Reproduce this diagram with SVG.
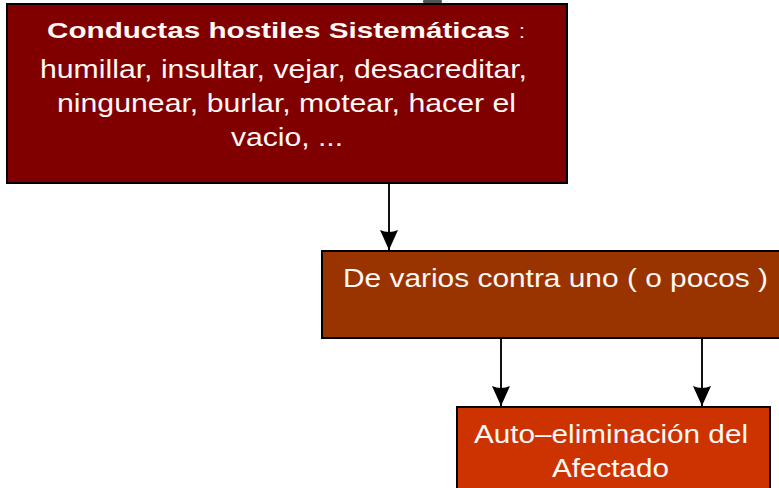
<svg xmlns="http://www.w3.org/2000/svg" width="779" height="488" viewBox="0 0 779 488">
<style>
.box{stroke:#000;stroke-width:2}
.t{font-family:"Liberation Sans",Arial,sans-serif;fill:#fff8f4}
.b{font-weight:bold;font-size:22px}
.n{font-size:25px}
.conn line{stroke:#111;stroke-width:2}
</style>
<defs>
<marker id="ah" markerUnits="userSpaceOnUse" markerWidth="20" markerHeight="18" viewBox="0 0 20 18" refX="20" refY="9" orient="auto">
<path d="M0,0 L20,9 L0,18 Q4,9 0,0 Z" fill="#000"/>
</marker>
</defs>
<rect width="779" height="488" fill="#fff"/>
<rect x="423" y="0" width="19" height="3" rx="1" fill="#555"/>
<g id="n1">
<rect class="box" x="7" y="4" width="560" height="179" fill="#800000"/>
<text class="t b" x="47" y="38" textLength="463" lengthAdjust="spacingAndGlyphs">Conductas hostiles Sistemáticas</text>
<text class="t" x="519" y="38" font-size="21">:</text>
<text class="t n" x="40" y="78" textLength="487" lengthAdjust="spacingAndGlyphs">humillar, insultar, vejar, desacreditar,</text>
<text class="t n" x="57" y="112" textLength="459" lengthAdjust="spacingAndGlyphs">ningunear, burlar, motear, hacer el</text>
<text class="t n" x="231" y="146" textLength="112" lengthAdjust="spacingAndGlyphs">vacio, ...</text>
</g>
<g id="n2">
<rect class="box" x="322" y="251" width="470" height="87" fill="#993300"/>
<text class="t n" x="343" y="287" textLength="425" lengthAdjust="spacingAndGlyphs">De varios contra uno ( o pocos )</text>
</g>
<g id="n3">
<rect class="box" x="457" y="407" width="313" height="95" fill="#CC3300"/>
<text class="t n" x="474" y="443" textLength="274" lengthAdjust="spacingAndGlyphs">Auto–eliminación del</text>
<text class="t n" x="552" y="477" textLength="117" lengthAdjust="spacingAndGlyphs">Afectado</text>
</g>
<g id="connectors" class="conn">
<line x1="389" y1="184" x2="389" y2="250" marker-end="url(#ah)"/>
<line x1="501" y1="339" x2="501" y2="406" marker-end="url(#ah)"/>
<line x1="702" y1="339" x2="702" y2="406" marker-end="url(#ah)"/>
</g>
</svg>
